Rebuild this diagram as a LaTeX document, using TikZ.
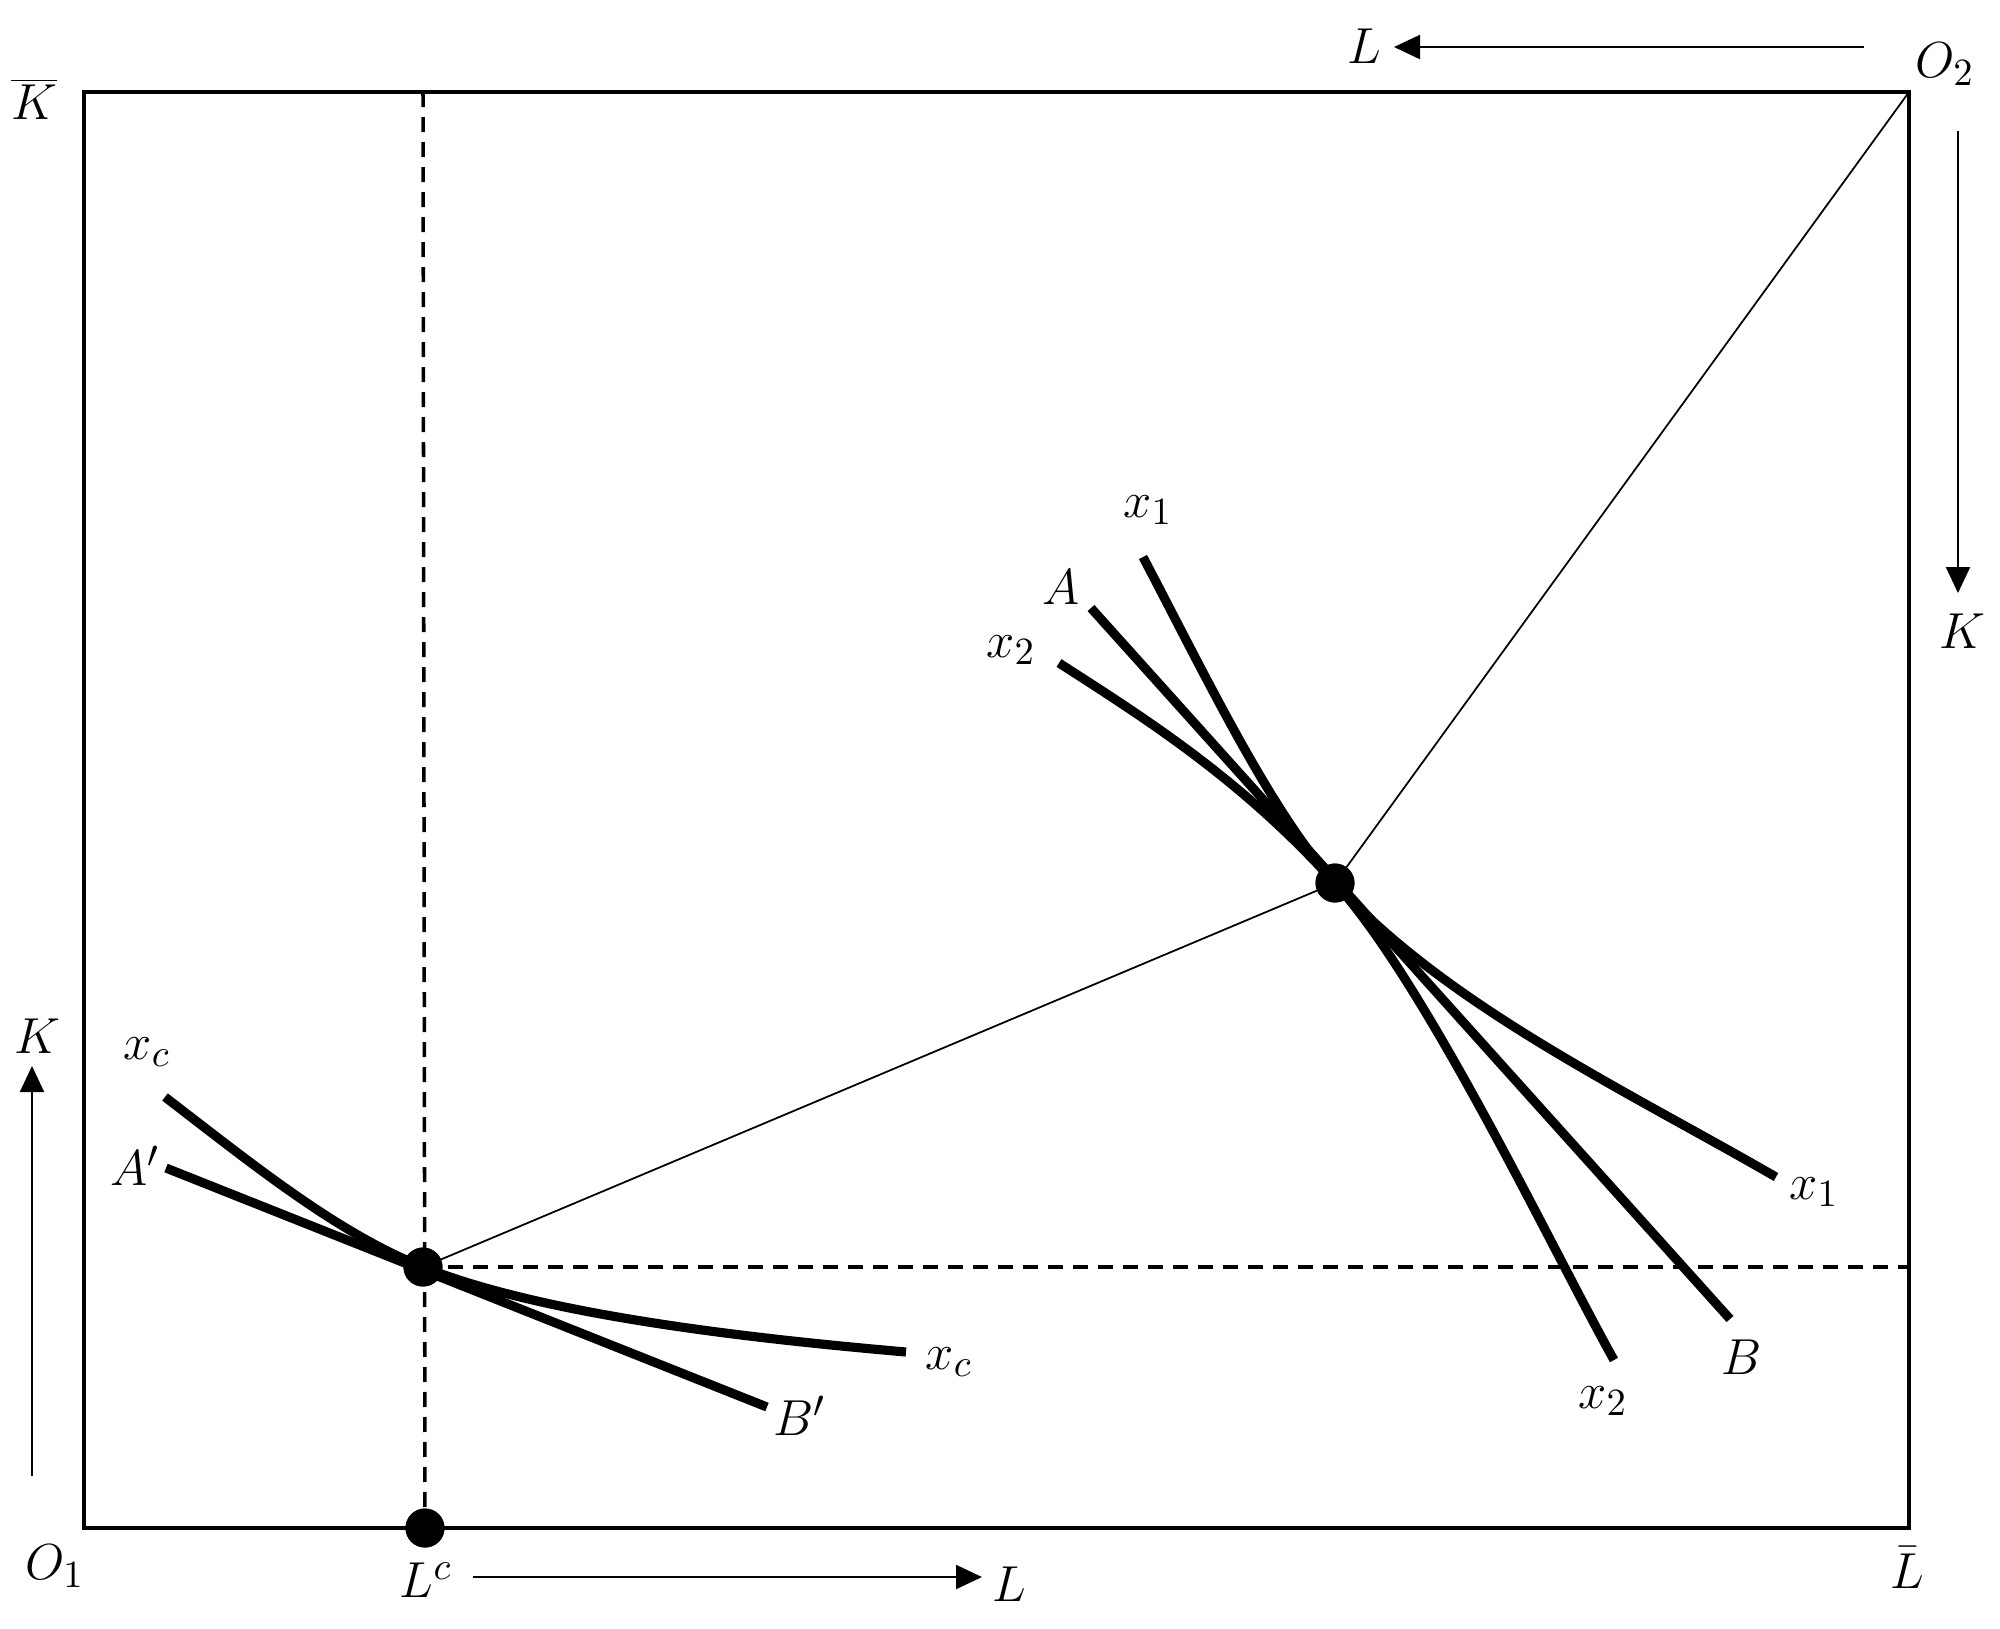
\documentclass[tikz,border=0pt]{standalone}
\usetikzlibrary{arrows.meta}
\begin{document}
\begin{tikzpicture}[x=0.1mm,y=-0.1mm,
  boxline/.style={line width=1.2pt},
  thickcurve/.style={line width=2.6pt},
  thinline/.style={line width=0.5pt},
  dashline/.style={line width=1.0pt, dash pattern=on 1.5mm off 1mm},
  axarrow/.style={line width=0.6pt, -{Triangle[length=2.6mm,width=2.4mm]}},
  dot/.style={circle, fill=black, inner sep=0pt, minimum size=3.9mm},
  lab/.style={inner sep=0pt, font=\fontsize{15}{18}\selectfont}]
\useasboundingbox (0,0) rectangle (2000,1628);
% box corners
\coordinate (TL) at (84,92);
\coordinate (TR) at (1909,92);
\coordinate (BL) at (84,1528);
\coordinate (BR) at (1909,1528);
\coordinate (Vtop) at (423,92);
\coordinate (Hend) at (1909,1267);
% points
\node[dot] (P) at (1335,883) {};
\node[dot] (Q) at (423,1267) {};
\node[dot] (Lc) at (425,1528) {};
\draw[boxline] (TL) rectangle (BR);
% dashed
\draw[dashline] (Vtop) -- (Lc.center);
\draw[dashline] (Q.center) -- (Hend);
% thin lines
\draw[thinline] (Q.center) -- (P.center) -- (TR);
% upper curves
\coordinate (x1s) at (1143,557);
\coordinate (x1e) at (1776,1177);
\coordinate (x2s) at (1059,663);
\coordinate (x2e) at (1614,1360);
\coordinate (As) at (1091,608);
\coordinate (Be) at (1730,1319);
\draw[thickcurve] (x1s) .. controls (1207,679) and (1271,812) .. (P.center)
   .. controls (1445,1005) and (1629,1092) .. (x1e);
\draw[thickcurve] (x2s) .. controls (1151,722) and (1243,781) .. (P.center)
   .. controls (1428,986) and (1554,1253) .. (x2e);
\draw[thickcurve] (As) -- (Be);
% lower curves
\coordinate (xcs) at (165,1097);
\coordinate (xce) at (906,1352);
\coordinate (Aps) at (166,1168);
\coordinate (Bpe) at (767,1407);
\draw[thickcurve] (xcs) .. controls (251,1163) and (337,1233) .. (Q.center)
   .. controls (543,1315) and (746,1338) .. (xce);
\draw[thickcurve] (Aps) -- (Bpe);
% redraw dots on top
\node[dot] at (P) {};
\node[dot] at (Q) {};
\node[dot] at (Lc) {};
% axis arrows
\coordinate (a1s) at (1864,47);
\coordinate (a1e) at (1394,47);
\coordinate (a2s) at (1958,131);
\coordinate (a2e) at (1958,593);
\coordinate (a3s) at (32,1476);
\coordinate (a3e) at (32,1066);
\coordinate (a4s) at (473,1577);
\coordinate (a4e) at (982,1577);
\draw[axarrow] (a1s) -- (a1e);
\draw[axarrow] (a2s) -- (a2e);
\draw[axarrow] (a3s) -- (a3e);
\draw[axarrow] (a4s) -- (a4e);
% labels
\node[lab] (lKbar) at (34,99) {$\overline{K}$};
\node[lab] (lLtop) at (1364,46) {$L$};
\node[lab] (lO2) at (1945,64) {$O_2$};
\node[lab] (lKr) at (1962,631) {$K$};
\node[lab] (lKl) at (37,1036) {$K$};
\node[lab] (lO1) at (55,1566) {$O_1$};
\node[lab] (lLc) at (426,1580) {$L^c$};
\node[lab] (lLb) at (1009,1584) {$L$};
\node[lab] (lLbar) at (1907,1568) {$\bar{L}$};
\node[lab] (lxc1) at (147,1052) {$x_c$};
\node[lab] (lAp) at (135,1166) {$A'$};
\node[lab] (lxc2) at (949,1362) {$x_c$};
\node[lab] (lBp) at (800,1416) {$B'$};
\node[lab] (lx1t) at (1148,510) {$x_1$};
\node[lab] (lA) at (1061,587) {$A$};
\node[lab] (lx2t) at (1011,650) {$x_2$};
\node[lab] (lx1r) at (1814,1192) {$x_1$};
\node[lab] (lB) at (1742,1357) {$B$};
\node[lab] (lx2b) at (1603,1401) {$x_2$};
\end{tikzpicture}
\end{document}
